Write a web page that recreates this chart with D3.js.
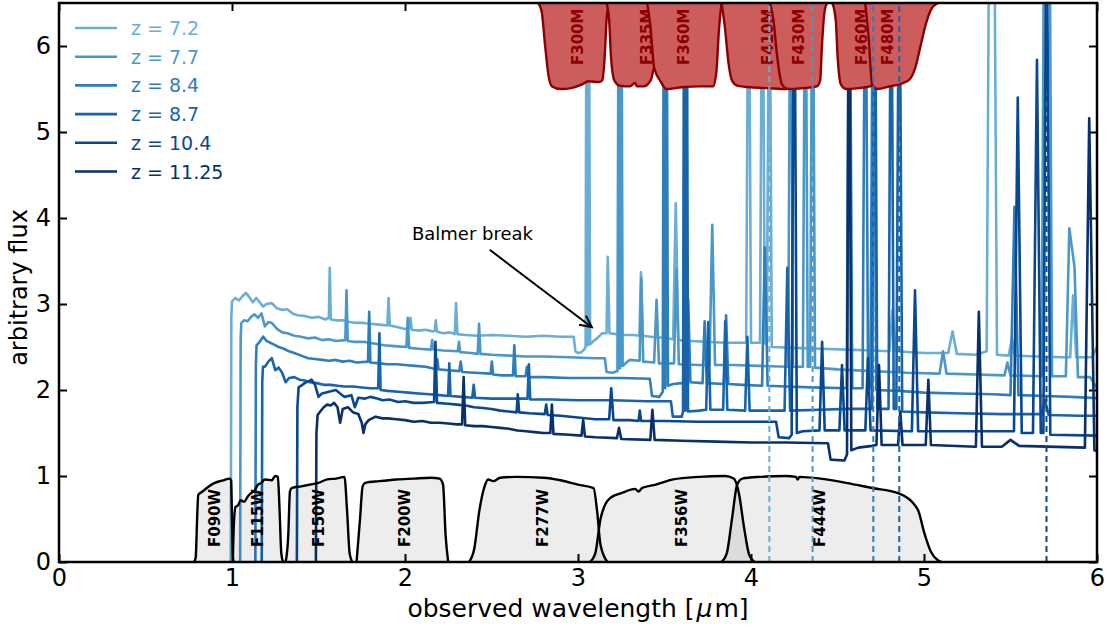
<!DOCTYPE html>
<html lang="en">
<head>
<meta charset="UTF-8">
<title>Redshifted spectra through NIRCam filters</title>
<script src="https://d3js.org/d3.v7.min.js"></script>
<style>
  body { margin: 0; background: #fff; }
  svg text { font-family: 'DejaVu Sans', sans-serif; }
</style>
</head>
<body>
<div id="chart"></div>
<script>
// ---- data (observed wavelength in micron, arbitrary flux) ----
const redshifts = ["7.2", "7.7", "8.4", "8.7", "10.4", "11.25"];

const spec72 = [[0.993,0],[0.996,2.85],[1.000,3.03],[1.02,3.07],[1.04,3.04],[1.06,3.09],[1.08,3.13],[1.10,3.08],[1.12,3.02],[1.14,3.07],[1.16,3.02],[1.18,2.97],[1.20,3.0],[1.23,3.01],[1.26,2.95],[1.29,2.93],[1.32,2.94],[1.35,2.89],[1.38,2.87],[1.42,2.86],[1.46,2.84],[1.50,2.85],[1.54,2.82],[1.560,2.84],[1.565,3.42],[1.571,2.82],[1.60,2.81],[1.64,2.81],[1.68,2.79],[1.72,2.78],[1.76,2.78],[1.80,2.77],[1.85,2.76],[1.898,2.75],[1.905,3.07],[1.912,2.75],[1.96,2.73],[2.00,2.71],[2.026,2.72],[2.032,2.84],[2.039,2.70],[2.08,2.69],[2.12,2.70],[2.16,2.68],[2.172,2.69],[2.178,2.81],[2.184,2.68],[2.22,2.66],[2.26,2.67],[2.288,2.65],[2.295,3.01],[2.303,2.65],[2.35,2.64],[2.42,2.63],[2.50,2.64],[2.60,2.63],[2.70,2.62],[2.80,2.63],[2.90,2.62],[2.975,2.62],[2.985,2.45],[3.00,2.43],[3.02,2.44],[3.035,2.47],[3.044,2.50],[3.050,8],[3.056,2.52],[3.062,8],[3.070,2.53],[3.09,2.57],[3.11,2.60],[3.14,2.66],[3.165,2.66],[3.172,3.55],[3.182,2.66],[3.22,2.65],[3.27,2.64],[3.32,2.64],[3.355,2.63],[3.364,3.37],[3.374,2.63],[3.42,2.62],[3.48,2.61],[3.55,2.59],[3.565,4.17],[3.580,2.58],[3.65,2.57],[3.75,2.56],[3.85,2.55],[3.972,2.55],[3.986,8],[4.000,2.55],[4.052,2.55],[4.066,8],[4.080,2.54],[4.092,2.54],[4.106,8],[4.120,2.50],[4.25,2.49],[4.40,2.48],[4.55,2.47],[4.70,2.46],[4.800,2.45],[4.818,2.93],[4.836,2.45],[5.00,2.43],[5.14,2.43],[5.165,2.68],[5.19,2.42],[5.30,2.41],[5.362,2.45],[5.378,8],[5.405,8],[5.422,2.41],[5.49,2.40],[5.508,2.6],[5.525,2.40],[5.65,2.39],[5.80,2.38],[5.845,2.38],[5.862,3.1],[5.88,2.38],[5.97,2.38],[6.05,2.7]];

const spec77 = [[1.047,0],[1.050,2.6],[1.054,2.78],[1.07,2.81],[1.09,2.80],[1.11,2.85],[1.13,2.88],[1.15,2.84],[1.17,2.89],[1.19,2.74],[1.21,2.79],[1.23,2.78],[1.26,2.71],[1.29,2.67],[1.32,2.66],[1.36,2.63],[1.40,2.62],[1.44,2.60],[1.48,2.61],[1.52,2.58],[1.56,2.59],[1.60,2.57],[1.655,2.58],[1.662,3.16],[1.669,2.57],[1.70,2.56],[1.76,2.56],[1.82,2.54],[1.88,2.52],[1.94,2.51],[2.008,2.50],[2.016,2.84],[2.024,2.49],[2.08,2.48],[2.150,2.47],[2.157,2.58],[2.164,2.47],[2.22,2.46],[2.305,2.45],[2.312,2.56],[2.319,2.44],[2.38,2.43],[2.420,2.42],[2.428,2.77],[2.436,2.42],[2.50,2.41],[2.60,2.40],[2.70,2.39],[2.80,2.39],[2.95,2.38],[3.10,2.37],[3.155,2.37],[3.165,2.21],[3.20,2.20],[3.228,2.22],[3.236,8],[3.243,2.25],[3.250,8],[3.258,2.28],[3.28,2.32],[3.30,2.35],[3.356,2.34],[3.366,3.30],[3.377,2.33],[3.44,2.32],[3.454,3.05],[3.468,2.31],[3.555,2.31],[3.569,3.40],[3.583,2.30],[3.70,2.29],[3.760,2.29],[3.776,3.92],[3.792,2.29],[3.90,2.29],[4.05,2.28],[4.215,2.27],[4.229,8],[4.243,2.27],[4.300,2.27],[4.314,8],[4.328,2.27],[4.342,2.27],[4.356,8],[4.370,2.26],[4.50,2.24],[4.70,2.22],[4.90,2.20],[5.09,2.19],[5.11,2.45],[5.13,2.19],[5.30,2.18],[5.465,2.17],[5.482,2.32],[5.50,2.17],[5.68,2.16],[5.695,8],[5.725,8],[5.74,2.16],[5.82,2.16],[5.84,3.88],[5.87,3.43],[5.89,2.15],[5.96,2.15],[6.05,1.85]];

const spec84 = [[1.135,0],[1.138,2.3],[1.142,2.52],[1.16,2.56],[1.18,2.62],[1.20,2.57],[1.22,2.55],[1.24,2.53],[1.27,2.50],[1.30,2.48],[1.33,2.45],[1.36,2.43],[1.40,2.40],[1.44,2.37],[1.48,2.36],[1.52,2.35],[1.56,2.34],[1.60,2.35],[1.64,2.33],[1.68,2.34],[1.72,2.32],[1.786,2.33],[1.793,2.91],[1.800,2.32],[1.85,2.31],[1.90,2.30],[1.95,2.30],[2.00,2.29],[2.06,2.28],[2.12,2.27],[2.180,2.24],[2.187,2.36],[2.194,2.24],[2.25,2.23],[2.314,2.22],[2.322,2.33],[2.330,2.21],[2.40,2.20],[2.495,2.19],[2.502,2.33],[2.509,2.18],[2.56,2.17],[2.624,2.17],[2.632,2.52],[2.640,2.16],[2.697,2.16],[2.705,2.27],[2.713,2.15],[2.80,2.15],[2.95,2.14],[3.10,2.14],[3.25,2.14],[3.415,2.13],[3.428,1.93],[3.47,1.92],[3.490,1.98],[3.497,8],[3.504,2.02],[3.511,8],[3.520,2.05],[3.55,2.07],[3.60,2.08],[3.624,2.09],[3.637,3.05],[3.650,2.09],[3.72,2.08],[3.732,2.80],[3.745,2.08],[3.843,2.07],[3.856,2.87],[3.869,2.07],[3.95,2.06],[4.064,2.05],[4.080,3.66],[4.096,2.05],[4.20,2.04],[4.35,2.03],[4.553,2.02],[4.569,8],[4.585,2.02],[4.645,2.02],[4.661,8],[4.677,2.02],[4.690,2.02],[4.707,8],[4.724,2.00],[4.85,1.99],[5.00,1.97],[5.20,1.96],[5.40,1.95],[5.50,1.94],[5.523,4.13],[5.546,1.94],[5.70,1.93],[5.85,1.92],[6.05,1.90]];

const spec87 = [[1.172,0],[1.175,2.1],[1.179,2.27],[1.19,2.27],[1.21,2.33],[1.23,2.37],[1.25,2.23],[1.27,2.26],[1.29,2.20],[1.31,2.09],[1.33,2.14],[1.36,2.15],[1.39,2.12],[1.42,2.11],[1.45,2.09],[1.49,2.08],[1.53,2.06],[1.57,2.06],[1.61,2.05],[1.65,2.04],[1.70,2.04],[1.75,2.03],[1.80,2.02],[1.845,2.02],[1.852,2.66],[1.859,2.00],[1.90,1.99],[1.96,1.98],[2.02,1.97],[2.08,1.96],[2.14,1.95],[2.20,1.94],[2.249,1.93],[2.256,2.31],[2.263,1.93],[2.33,1.92],[2.389,1.91],[2.397,2.06],[2.405,1.91],[2.50,1.90],[2.60,1.90],[2.708,1.90],[2.716,2.30],[2.724,1.89],[2.85,1.89],[3.00,1.88],[3.20,1.88],[3.40,1.87],[3.537,1.87],[3.548,1.69],[3.60,1.69],[3.607,1.75],[3.614,8],[3.621,1.76],[3.628,8],[3.636,1.75],[3.70,1.76],[3.741,1.77],[3.753,2.79],[3.765,1.77],[3.839,1.77],[3.851,2.80],[3.863,1.77],[3.966,1.76],[3.979,2.62],[3.992,1.76],[4.10,1.76],[4.194,1.76],[4.210,3.42],[4.226,1.76],[4.40,1.77],[4.55,1.78],[4.700,1.78],[4.715,8],[4.730,1.78],[4.795,1.78],[4.810,8],[4.825,1.78],[4.840,1.78],[4.857,8],[4.874,1.75],[5.00,1.74],[5.20,1.73],[5.45,1.72],[5.68,1.72],[5.70,1.88],[5.72,1.71],[5.90,1.70],[6.05,1.70]];

const spec104 = [[1.375,0],[1.378,1.8],[1.385,2.03],[1.40,2.05],[1.42,2.08],[1.46,2.12],[1.48,2.06],[1.50,1.92],[1.52,1.96],[1.56,1.98],[1.60,2.00],[1.63,1.95],[1.65,1.92],[1.69,1.94],[1.71,1.80],[1.73,1.91],[1.77,1.90],[1.80,1.92],[1.84,1.90],[1.87,1.88],[1.91,1.89],[1.96,1.86],[2.00,1.87],[2.05,1.85],[2.10,1.85],[2.168,1.86],[2.176,2.56],[2.185,1.85],[2.25,1.84],[2.30,1.83],[2.35,1.82],[2.40,1.80],[2.45,1.79],[2.50,1.78],[2.55,1.76],[2.60,1.75],[2.645,1.74],[2.652,1.95],[2.660,1.74],[2.72,1.73],[2.808,1.72],[2.816,1.83],[2.825,1.71],[2.90,1.70],[3.00,1.68],[3.10,1.66],[3.180,1.66],[3.192,2.02],[3.205,1.65],[3.30,1.65],[3.350,1.64],[3.357,1.76],[3.365,1.64],[3.50,1.64],[3.70,1.63],[3.90,1.63],[4.145,1.63],[4.160,1.45],[4.22,1.44],[4.235,1.48],[4.249,8],[4.265,1.50],[4.30,1.52],[4.396,1.53],[4.411,2.56],[4.426,1.53],[4.511,1.53],[4.526,2.29],[4.541,1.53],[4.661,1.53],[4.676,2.37],[4.691,1.53],[4.930,1.52],[4.948,3.16],[4.966,1.52],[5.10,1.52],[5.30,1.52],[5.520,1.52],[5.542,5.40],[5.565,1.50],[5.630,1.50],[5.653,5.84],[5.675,1.50],[5.690,1.50],[5.708,8],[5.730,1.48],[6.00,1.47],[6.05,1.47]];

const spec1125 = [[1.485,0],[1.488,1.5],[1.495,1.71],[1.51,1.75],[1.53,1.80],[1.55,1.83],[1.57,1.82],[1.59,1.85],[1.61,1.80],[1.625,1.62],[1.64,1.78],[1.67,1.80],[1.70,1.74],[1.73,1.72],[1.75,1.62],[1.76,1.50],[1.77,1.60],[1.79,1.65],[1.83,1.69],[1.87,1.67],[1.90,1.67],[1.95,1.66],[2.00,1.65],[2.05,1.63],[2.10,1.64],[2.15,1.62],[2.20,1.62],[2.25,1.61],[2.30,1.60],[2.330,1.60],[2.339,2.15],[2.348,1.59],[2.40,1.58],[2.45,1.58],[2.50,1.57],[2.55,1.56],[2.60,1.55],[2.65,1.53],[2.70,1.52],[2.75,1.51],[2.80,1.50],[2.840,1.50],[2.849,1.83],[2.858,1.49],[2.95,1.48],[3.020,1.47],[3.030,1.65],[3.040,1.46],[3.10,1.45],[3.225,1.44],[3.237,1.56],[3.250,1.43],[3.418,1.42],[3.430,1.77],[3.443,1.42],[3.60,1.41],[3.80,1.40],[4.00,1.39],[4.20,1.39],[4.445,1.38],[4.460,1.19],[4.54,1.18],[4.555,1.25],[4.566,8],[4.580,1.30],[4.62,1.33],[4.70,1.35],[4.725,1.36],[4.740,2.29],[4.755,1.36],[4.850,1.36],[4.863,1.75],[4.876,1.36],[5.010,1.36],[5.025,2.12],[5.040,1.36],[5.300,1.34],[5.317,2.91],[5.335,1.34],[5.45,1.34],[5.50,1.42],[5.55,1.35],[5.930,1.33],[5.955,5.16],[5.985,1.30],[6.05,1.25]];

const spectra = [spec72, spec77, spec84, spec87, spec104, spec1125];
const specColors = ["#6aaed6", "#4a98c9", "#2e7ebc", "#1764ab", "#08488e", "#08306b"];

// [OIII] 5007 positions marked by dashed lines (one per redshift that falls in range)
const oiiiLines = [4.106, 4.356, 4.707, 4.857, 5.708];

// wide filters: transmission curves (0..1)
const wideNames = ["F090W", "F115W", "F150W", "F200W", "F277W", "F356W", "F444W"];
const wideLabelAt = [0.90, 1.15, 1.50, 2.00, 2.80, 3.60, 4.40];
const wideCurves = [
  [[0.78,0],[0.79,0.05],[0.80,0.6],[0.805,0.78],[0.83,0.82],[0.86,0.87],[0.90,0.92],[0.95,0.95],[0.985,0.97],[0.995,0.95],[1.000,0.5],[1.005,0.05],[1.01,0]],
  [[1.005,0],[1.01,0.4],[1.02,0.64],[1.035,0.66],[1.05,0.72],[1.07,0.70],[1.09,0.76],[1.11,0.80],[1.13,0.83],[1.15,0.90],[1.17,0.92],[1.19,0.96],[1.23,0.95],[1.25,1.0],[1.265,0.99],[1.275,0.6],[1.285,0.1],[1.295,0]],
  [[1.31,0],[1.325,0.3],[1.335,0.82],[1.345,0.86],[1.40,0.88],[1.45,0.90],[1.50,0.92],[1.55,0.96],[1.60,0.97],[1.65,0.99],[1.665,0.6],[1.68,0.1],[1.695,0]],
  [[1.72,0],[1.74,0.5],[1.755,0.88],[1.77,0.92],[1.85,0.94],[1.95,0.96],[2.05,0.97],[2.15,0.98],[2.20,0.97],[2.22,0.9],[2.235,0.3],[2.25,0]],
  [[2.37,0],[2.40,0.15],[2.43,0.6],[2.46,0.88],[2.48,0.96],[2.51,0.94],[2.55,0.98],[2.65,0.99],[2.80,0.98],[2.90,0.95],[3.00,0.90],[3.09,0.86],[3.11,0.6],[3.13,0.2],[3.17,0]],
  [[3.07,0],[3.10,0.1],[3.13,0.5],[3.16,0.68],[3.19,0.75],[3.25,0.80],[3.33,0.85],[3.35,0.82],[3.37,0.86],[3.45,0.90],[3.55,0.96],[3.70,0.99],[3.85,1.0],[3.90,0.97],[3.93,0.8],[3.96,0.4],[3.99,0.08],[4.02,0]],
  [[3.83,0],[3.86,0.1],[3.89,0.5],[3.92,0.9],[3.95,0.97],[4.05,0.99],[4.20,1.0],[4.26,0.99],[4.27,0.96],[4.28,0.99],[4.40,0.97],[4.55,0.92],[4.70,0.86],[4.85,0.80],[4.93,0.70],[4.97,0.58],[5.00,0.35],[5.04,0.12],[5.08,0.02],[5.10,0]]
];

// medium filters, hung from the top of the plot
const mediumNames = ["F300M", "F335M", "F360M", "F410M", "F430M", "F460M", "F480M"];
const mediumLabelAt = [3.00, 3.40, 3.61, 4.10, 4.28, 4.64, 4.79];
const mediumCurves = [
  [[2.77,0],[2.79,0.1],[2.81,0.5],[2.83,0.85],[2.85,0.97],[2.90,1.0],[2.96,0.99],[3.02,0.95],[3.06,0.91],[3.12,0.92],[3.14,0.9],[3.155,0.6],[3.165,0.2],[3.18,0]],
  [[3.165,0],[3.18,0.2],[3.19,0.6],[3.21,0.9],[3.24,0.96],[3.30,0.97],[3.33,0.93],[3.34,0.97],[3.38,0.97],[3.42,0.9],[3.44,0.75],[3.47,0.6],[3.51,0.4],[3.53,0.15],[3.55,0]],
  [[3.40,0],[3.42,0.3],[3.44,0.75],[3.48,0.92],[3.51,1.0],[3.60,0.98],[3.70,0.97],[3.78,0.97],[3.80,0.8],[3.815,0.3],[3.83,0]],
  [[3.83,0],[3.85,0.3],[3.87,0.7],[3.89,0.9],[3.92,0.96],[4.00,0.98],[4.10,0.99],[4.20,1.0],[4.26,0.98],[4.29,0.6],[4.31,0.2],[4.33,0]],
  [[4.11,0],[4.13,0.2],[4.15,0.6],[4.18,0.95],[4.22,1.0],[4.30,0.99],[4.38,0.97],[4.40,0.9],[4.41,0.5],[4.425,0.1],[4.44,0]],
  [[4.47,0],[4.49,0.2],[4.50,0.6],[4.52,0.95],[4.55,1.0],[4.62,0.99],[4.70,0.96],[4.74,0.9],[4.76,0.5],[4.78,0]],
  [[4.66,0],[4.68,0.4],[4.70,0.95],[4.73,1.0],[4.80,0.97],[4.88,0.93],[4.92,0.88],[4.95,0.75],[4.98,0.5],[5.01,0.25],[5.04,0.08],[5.08,0]]
];

const xTicks = [0, 1, 2, 3, 4, 5, 6];
const yTicks = [0, 1, 2, 3, 4, 5, 6];

// ---- chart ----
const width = 1106, height = 626;
const x = d3.scaleLinear().domain([0, 6]).range([59, 1097]);
const y = d3.scaleLinear().domain([0, 6.5]).range([562, 3]);

const svg = d3.select("#chart").append("svg")
    .attr("width", width)
    .attr("height", height);

svg.append("clipPath").attr("id", "plot-clip")
  .append("rect")
    .attr("x", x(0)).attr("y", y(6.5))
    .attr("width", x(6) - x(0)).attr("height", y(0) - y(6.5));

// axes (ticks point inward)
const axisStyle = g => {
  g.select(".domain").remove();
  g.selectAll(".tick line").attr("stroke", "#000").attr("stroke-width", 2);
  g.selectAll(".tick text").attr("font-size", 24).attr("fill", "#000")
    .style("font-family", "'DejaVu Sans', sans-serif");
};
svg.append("g").attr("transform", `translate(0,${y(0)})`)
  .call(d3.axisBottom(x).tickValues(xTicks).tickFormat(d3.format("d")).tickSizeInner(-8).tickSizeOuter(0).tickPadding(7))
  .call(axisStyle);
svg.append("g").attr("transform", `translate(0,${y(6.5)})`)
  .call(d3.axisTop(x).tickValues(xTicks).tickFormat("").tickSizeInner(-8).tickSizeOuter(0))
  .call(axisStyle);
svg.append("g").attr("transform", `translate(${x(0)},0)`)
  .call(d3.axisLeft(y).tickValues(yTicks).tickFormat(d3.format("d")).tickSizeInner(-8).tickSizeOuter(0).tickPadding(8))
  .call(axisStyle);
svg.append("g").attr("transform", `translate(${x(6)},0)`)
  .call(d3.axisRight(y).tickValues(yTicks).tickFormat("").tickSizeInner(-8).tickSizeOuter(0))
  .call(axisStyle);

const plot = svg.append("g").attr("clip-path", "url(#plot-clip)");

// spectra
const specLine = d3.line().x(d => x(d[0])).y(d => y(d[1]));
spectra.forEach((s, i) => {
  plot.append("path")
    .attr("d", specLine(s))
    .attr("fill", "none")
    .attr("stroke", specColors[i])
    .attr("stroke-width", 2.6)
    .attr("stroke-linejoin", "round");
});

// wide filters at the bottom
const wideArea = d3.area().x(d => x(d[0])).y0(y(0)).y1(d => y(d[1])).curve(d3.curveMonotoneX);
const wideEdge = d3.line().x(d => x(d[0])).y(d => y(d[1])).curve(d3.curveMonotoneX);
wideCurves.forEach((c, i) => {
  plot.append("path").attr("d", wideArea(c))
    .attr("fill", "#000").attr("fill-opacity", 0.07);
  plot.append("path").attr("d", wideEdge(c))
    .attr("fill", "none").attr("stroke", "#000").attr("stroke-width", 2.4);
  plot.append("text")
    .attr("transform", `translate(${x(wideLabelAt[i])},547) rotate(-90)`)
    .attr("dominant-baseline", "central")
    .attr("font-size", 15).attr("font-weight", "bold").attr("fill", "#000")
    .text(wideNames[i]);
});

// medium filters hanging from the top
const medArea = d3.area().x(d => x(d[0])).y0(y(6.5)).y1(d => y(6.5 - d[1])).curve(d3.curveMonotoneX);
const medEdge = d3.line().x(d => x(d[0])).y(d => y(6.5 - d[1])).curve(d3.curveMonotoneX);
mediumCurves.forEach((c, i) => {
  plot.append("path").attr("d", medArea(c)).attr("fill", "#cd5c5c");
  plot.append("path").attr("d", medEdge(c))
    .attr("fill", "none").attr("stroke", "#8b0000").attr("stroke-width", 2.4);
  plot.append("text")
    .attr("transform", `translate(${x(mediumLabelAt[i])},65) rotate(-90)`)
    .attr("dominant-baseline", "central")
    .attr("font-size", 15).attr("font-weight", "bold").attr("fill", "#8b0000")
    .text(mediumNames[i]);
});

// dashed [OIII] markers
oiiiLines.forEach((l, i) => {
  plot.append("line")
    .attr("x1", x(l)).attr("x2", x(l))
    .attr("y1", y(0)).attr("y2", y(6.5))
    .attr("stroke", specColors[i]).attr("stroke-width", 2)
    .attr("stroke-dasharray", "6,4");
});

// frame
svg.append("rect")
  .attr("x", x(0)).attr("y", y(6.5))
  .attr("width", x(6) - x(0)).attr("height", y(0) - y(6.5))
  .attr("fill", "none").attr("stroke", "#000").attr("stroke-width", 2.5);

// axis labels
svg.append("text")
  .attr("x", (x(0) + x(6)) / 2).attr("y", 617)
  .attr("text-anchor", "middle").attr("font-size", 25)
  .call(t => {
    t.append("tspan").text("observed wavelength [");
    t.append("tspan").attr("font-style", "italic").attr("dx", 2).text("\u03bc");
    t.append("tspan").attr("dx", 2).text("m]");
  });
svg.append("text")
  .attr("transform", `translate(27,${(y(0) + y(6.5)) / 2 + 5}) rotate(-90)`)
  .attr("text-anchor", "middle").attr("font-size", 24)
  .text("arbitrary flux");

// legend
const legend = svg.append("g");
redshifts.forEach((z, i) => {
  const ly = 28 + i * 28.7;
  legend.append("line")
    .attr("x1", 75).attr("x2", 117).attr("y1", ly).attr("y2", ly)
    .attr("stroke", specColors[i]).attr("stroke-width", 2.6);
  legend.append("text")
    .attr("x", 131).attr("y", ly)
    .attr("dominant-baseline", "central")
    .attr("font-size", 19).attr("fill", specColors[i])
    .text(`z = ${z}`);
});

// Balmer break annotation
const arrowFrom = [2.49, 3.63], arrowTo = [3.08, 2.73];
svg.append("text")
  .attr("x", x(2.04)).attr("y", y(3.74))
  .attr("font-size", 18).attr("fill", "#000")
  .text("Balmer break");
const ax0 = x(arrowFrom[0]), ay0 = y(arrowFrom[1]);
const ax1 = x(arrowTo[0]), ay1 = y(arrowTo[1]);
svg.append("line")
  .attr("x1", ax0).attr("y1", ay0).attr("x2", ax1).attr("y2", ay1)
  .attr("stroke", "#000").attr("stroke-width", 2);
const ang = Math.atan2(ay1 - ay0, ax1 - ax0);
const head = [ang + Math.PI - 0.45, ang + Math.PI + 0.45].map(a => [ax1 + 13 * Math.cos(a), ay1 + 13 * Math.sin(a)]);
svg.append("path")
  .attr("d", `M${head[0][0]},${head[0][1]}L${ax1},${ay1}L${head[1][0]},${head[1][1]}`)
  .attr("fill", "none").attr("stroke", "#000").attr("stroke-width", 2);
</script>
</body>
</html>
